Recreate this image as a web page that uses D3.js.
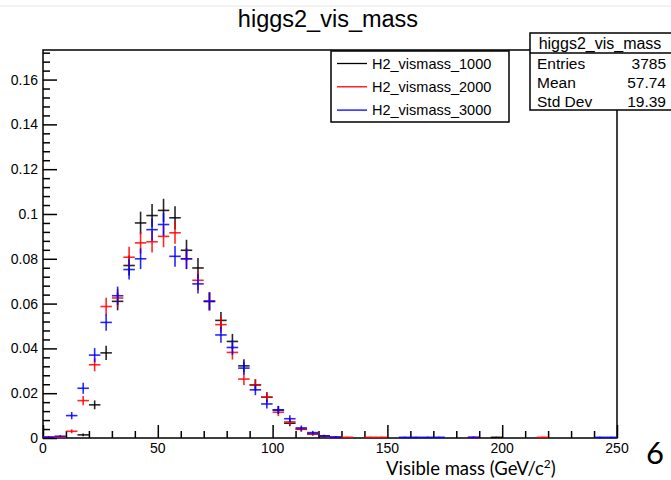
<!DOCTYPE html>
<html>
<head>
<meta charset="utf-8">
<script src="https://cdn.jsdelivr.net/npm/d3@7"></script>
<style>
body { margin: 0; background: #fff; }
svg { display: block; }
</style>
</head>
<body>
<script>
//Width and height
var w = 671;
var h = 480;

//Histogram binning (GeV)
var xMin = 0, xMax = 250, binWidth = 5;

var seriesNames = ["H2_vismass_1000", "H2_vismass_2000", "H2_vismass_3000"];
var seriesColors = ["#000000", "#ff0000", "#0000ff"];
var entries = [3785, 3785, 3785];

//Normalised bin contents
var h1000 = [0, 0, 0, 0.0014, 0.0148, 0.038, 0.061, 0.077, 0.096, 0.0993,
             0.1016, 0.0983, 0.0838, 0.0759, 0.061, 0.0525, 0.0431, 0.0322, 0.0237, 0.0182,
             0.0125, 0.0066, 0.0039, 0.0018, 0.0009, 0.0003, 0, 0, 0, 0,
             0, 0, 0, 0, 0, 0, 0, 0, 0, 0.0003,
             0, 0, 0, 0, 0, 0, 0, 0, 0, 0];
var h2000 = [0.0005, 0.0003, 0.003, 0.0167, 0.0327, 0.0587, 0.0625, 0.0807, 0.0871, 0.0876,
             0.090, 0.0916, 0.080, 0.0704, 0.061, 0.0506, 0.0382, 0.0263, 0.0237, 0.0182,
             0.0115, 0.0072, 0.0039, 0.0018, 0.0009, 0.0003, 0.0003, 0, 0.0003, 0.0003,
             0, 0, 0, 0, 0, 0, 0, 0.0003, 0, 0,
             0, 0, 0, 0.0003, 0, 0, 0, 0, 0, 0];
var h3000 = [0.0003, 0.0008, 0.010, 0.0222, 0.037, 0.0516, 0.0635, 0.0752, 0.080, 0.093,
             0.0953, 0.0811, 0.080, 0.0688, 0.061, 0.046, 0.0404, 0.0312, 0.0215, 0.0152,
             0.0125, 0.0086, 0.0045, 0.0024, 0.0009, 0.0004, 0, 0, 0, 0,
             0, 0.0003, 0.0003, 0.0003, 0.0003, 0, 0, 0.0003, 0, 0,
             0, 0, 0, 0, 0, 0, 0, 0, 0.0003, 0.0003];
var seriesValues = [h1000, h2000, h3000];

var xTicks = [0, 50, 100, 150, 200, 250];
var yTicks = [0, 0.02, 0.04, 0.06, 0.08, 0.1, 0.12, 0.14, 0.16];
var yMax = 0.1732;

var statsTitle = "higgs2_vis_mass";
var statsLabels = ["Entries", "Mean", "Std Dev"];
var statsValues = ["3785", "57.74", "19.39"];

var frame = { left: 43, right: 617, top: 50, bottom: 438 };
var rootFont = "'Liberation Sans', Arial, Helvetica, sans-serif";
var slideFont = "Lato, 'Open Sans', sans-serif";

var xScale = d3.scaleLinear()
    .domain([xMin, xMax])
    .range([frame.left, frame.right]);

var yScale = d3.scaleLinear()
    .domain([0, yMax])
    .range([frame.bottom, frame.top]);

//Create SVG element
var svg = d3.select("body")
    .append("svg")
    .attr("width", w)
    .attr("height", h)
    .style("background", "#fff");

//faint slide edge at the top
svg.append("line")
    .attr("x1", 0).attr("x2", w)
    .attr("y1", 6).attr("y2", 6)
    .attr("stroke", "#e6e6e6")
    .attr("stroke-width", 1);

//Title
svg.append("text")
    .attr("x", 328)
    .attr("y", 27)
    .attr("text-anchor", "middle")
    .attr("font-family", rootFont)
    .attr("font-size", "23.5px")
    .text("higgs2_vis_mass");

//Frame
svg.append("rect")
    .attr("x", frame.left)
    .attr("y", frame.top)
    .attr("width", frame.right - frame.left)
    .attr("height", frame.bottom - frame.top)
    .attr("fill", "none")
    .attr("stroke", "#000")
    .attr("stroke-width", 1.5);

//Axes, ticks inside the frame like ROOT
var xAxis = d3.axisTop(xScale)
    .tickValues(d3.range(xMin, xMax + 1, 10))
    .tickSize(7)
    .tickFormat("");
var xg = svg.append("g")
    .attr("transform", "translate(0," + frame.bottom + ")")
    .call(xAxis);
xg.select(".domain").remove();
xg.selectAll(".tick line")
    .attr("stroke-width", 1.5)
    .attr("y2", function(d) { return xTicks.indexOf(d) >= 0 ? -13 : -7; });

var yAxis = d3.axisRight(yScale)
    .tickValues(d3.range(0, yMax, 0.004))
    .tickSize(7)
    .tickFormat("");
var yg = svg.append("g")
    .attr("transform", "translate(" + frame.left + ",0)")
    .call(yAxis);
yg.select(".domain").remove();
yg.selectAll(".tick line")
    .attr("stroke-width", 1.5)
    .attr("x2", function(d, i) { return i % 5 === 0 ? 14 : 7; });

//Tick labels
svg.selectAll("text.xlab")
    .data(xTicks)
    .enter()
    .append("text")
    .attr("class", "xlab")
    .attr("x", function(d) { return xScale(d); })
    .attr("y", 453)
    .attr("text-anchor", "middle")
    .attr("font-family", rootFont)
    .attr("font-size", "14px")
    .text(function(d) { return d; });

svg.selectAll("text.ylab")
    .data(yTicks)
    .enter()
    .append("text")
    .attr("class", "ylab")
    .attr("x", 38)
    .attr("y", function(d) { return yScale(d) + 5; })
    .attr("text-anchor", "end")
    .attr("font-family", rootFont)
    .attr("font-size", "14px")
    .text(function(d) { return d === 0 ? "0" : String(+d.toFixed(2)); });

//Histogram points with error bars
var plot = svg.append("g");
seriesValues.forEach(function(vals, s) {
    var pts = vals.map(function(v, i) {
        return { lo: xMin + i * binWidth, v: v, e: Math.sqrt(v / entries[s]) };
    }).filter(function(d) { return d.v > 0; });

    var g = plot.append("g")
        .attr("stroke", seriesColors[s])
        .attr("stroke-width", 1.6)
        .attr("stroke-opacity", 0.85);

    g.selectAll("line.hbar")
        .data(pts)
        .enter()
        .append("line")
        .attr("class", "hbar")
        .attr("x1", function(d) { return xScale(d.lo); })
        .attr("x2", function(d) { return xScale(d.lo + binWidth); })
        .attr("y1", function(d) { return yScale(d.v); })
        .attr("y2", function(d) { return yScale(d.v); });

    g.selectAll("line.vbar")
        .data(pts)
        .enter()
        .append("line")
        .attr("class", "vbar")
        .attr("x1", function(d) { return xScale(d.lo + binWidth / 2); })
        .attr("x2", function(d) { return xScale(d.lo + binWidth / 2); })
        .attr("y1", function(d) { return yScale(Math.max(0, d.v - d.e)); })
        .attr("y2", function(d) { return yScale(d.v + d.e); });
});

//Legend
var legend = svg.append("g");
legend.append("rect")
    .attr("x", 331).attr("y", 51)
    .attr("width", 178).attr("height", 71)
    .attr("fill", "#fff")
    .attr("stroke", "#000")
    .attr("stroke-width", 1.5);
seriesNames.forEach(function(name, i) {
    var yy = 63.5 + i * 23.3;
    legend.append("line")
        .attr("x1", 337).attr("x2", 367)
        .attr("y1", yy).attr("y2", yy)
        .attr("stroke", seriesColors[i])
        .attr("stroke-width", 1.3);
    legend.append("text")
        .attr("x", 372)
        .attr("y", yy + 5)
        .attr("font-family", rootFont)
        .attr("font-size", "14.5px")
        .text(name);
});

//Stats box
var stats = svg.append("g");
stats.append("rect")
    .attr("x", 530).attr("y", 33)
    .attr("width", 150).attr("height", 77)
    .attr("fill", "#fff")
    .attr("stroke", "#000")
    .attr("stroke-width", 1.5);
stats.append("line")
    .attr("x1", 530).attr("x2", 680)
    .attr("y1", 53).attr("y2", 53)
    .attr("stroke", "#000")
    .attr("stroke-width", 1.5);
stats.append("text")
    .attr("x", 600).attr("y", 48.5)
    .attr("text-anchor", "middle")
    .attr("font-family", rootFont)
    .attr("font-size", "16px")
    .text(statsTitle);
statsLabels.forEach(function(lab, i) {
    var yy = 68.5 + i * 19;
    stats.append("text")
        .attr("x", 537).attr("y", yy)
        .attr("font-family", rootFont)
        .attr("font-size", "15.5px")
        .text(lab);
    stats.append("text")
        .attr("x", 666).attr("y", yy)
        .attr("text-anchor", "end")
        .attr("font-family", rootFont)
        .attr("font-size", "15.5px")
        .text(statsValues[i]);
});

//X axis title (slide text) and slide number
var xt = svg.append("text")
    .attr("x", 386)
    .attr("y", 475)
    .attr("font-family", slideFont)
    .attr("font-size", "18.5px");
xt.append("tspan").text("Visible mass (GeV/c");
xt.append("tspan").attr("dy", -7).attr("font-size", "12px").text("2");
xt.append("tspan").attr("dy", 7).text(")");

svg.append("text")
    .attr("x", 646)
    .attr("y", 464)
    .attr("font-family", slideFont)
    .attr("font-size", "31px")
    .text("6");
</script>
</body>
</html>
